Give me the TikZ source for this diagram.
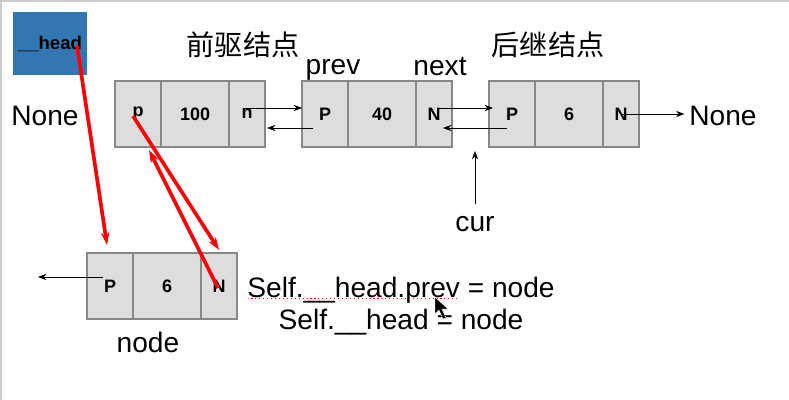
\documentclass[tikz,border=0pt]{standalone}
\usepackage{fontspec}
\setmainfont{Liberation Sans}
\newfontfamily\cjk{Noto Sans CJK SC}
\usetikzlibrary{arrows.meta, positioning}

\definecolor{headblue}{RGB}{50,118,178}
\definecolor{cellgray}{RGB}{221,221,223}
\definecolor{cellline}{RGB}{135,135,135}

\begin{document}
\begin{tikzpicture}[
            x = 0.025cm, y = -0.025cm, % one unit = one pixel, y going down
            cell/.style = {draw=cellline, fill=cellgray, line width=1pt, outer sep=0pt,
                           inner sep=0pt, minimum height=1.65cm,
                           font=\fontsize{12.8}{14}\selectfont\bfseries},
            pcell/.style = {cell, minimum width=1.15cm},
            dcell/.style = {cell, minimum width=1.7cm},
            ncell/.style = {cell, minimum width=0.9cm},
            big/.style = {font=\fontsize{20}{24}\selectfont},
            cn/.style = {font=\cjk\fontsize{20}{24}\selectfont},
            link/.style = {-{Stealth[length=6pt, width=4.5pt]}, line width=0.6pt},
            redlink/.style = {-{Stealth[length=9pt, width=6pt]}, red, line width=2.6pt}
        ]

        \useasboundingbox (0,0) rectangle (789,400);
        \fill[gray!40] (0,0) rectangle (789,2);
        \fill[gray!40] (0,0) rectangle (2,400);

        % head pointer
        \node[fill=headblue, minimum width=1.85cm, minimum height=1.575cm,
              font=\fontsize{13.2}{14}\selectfont\bfseries] (head) at (50,43.5) {\_\_head};

        % predecessor
        \node[pcell, anchor=west] (n1p) at (115,114) {p};
        \node[dcell, right=0pt of n1p] (n1d) {100};
        \node[ncell, right=0pt of n1d] (n1n) {n};

        % current
        \node[pcell, anchor=west] (n2p) at (302,114) {P};
        \node[dcell, right=0pt of n2p] (n2d) {40};
        \node[ncell, right=0pt of n2d] (n2n) {N};

        % successor
        \node[pcell, anchor=west] (n3p) at (489,114) {P};
        \node[dcell, right=0pt of n3p] (n3d) {6};
        \node[ncell, right=0pt of n3d] (n3n) {N};

        % new node
        \node[pcell, anchor=west] (bp) at (87,286) {P};
        \node[dcell, right=0pt of bp] (bd) {6};
        \node[ncell, right=0pt of bd] (bn) {N};

        % labels
        \node[cn] (pre) at (243,45) {前驱结点};
        \node[cn] (post) at (548,45) {后继结点};
        \node[big] (prev) at (333,70) {prev};
        \node[big] (next) at (440,67) {next};
        \node[big] (noneL) at (45,116) {None};
        \node[big] (noneR) at (723,116) {None};
        \node[big] (cur) at (475,224) {cur};
        \node[big] (nodelbl) at (148,342) {node};
        \node[big] (self1) at (401,290) {Self.\_\_head.prev = node};
        \node[big] (self2) at (401,322) {Self.\_\_head = node};
        \coordinate (curtip) at (475,151);
        \coordinate (leftend) at (38,277);

        % links
        \draw[link] ([shift={(-4,-6)}]n1n.center) -- ([shift={(0,-6)}]n2p.west);
        \draw[link] ([shift={(-12,14)}]n2p.center) -- ([shift={(2,14)}]n1n.east);
        \draw[link] ([shift={(3,-6)}]n2n.center) -- ([shift={(4,-6)}]n3p.west);
        \draw[link] ([shift={(-5,14)}]n3p.center) -- ([shift={(9,14)}]n2n.center);
        \draw[link] (n3n.center) -- (noneR.west |- n3n.center);
        \draw[link] ([shift={(0,-7)}]cur.north) -- (curtip);
        \draw[link] ([shift={(-7,-9)}]bp.center) -- (leftend);

        % red dotted underline and mouse pointer
        \draw[red, dotted, line width=0.8pt] ([shift={(9,1)}]self1.base west) -- ([shift={(217,1)}]self1.base west);
        \fill[black, draw=white, line width=0.3pt] (435,297) -- (435,314) -- (439,310) -- (443,319)
            -- (446,318) -- (442,309) -- (448,309) -- cycle;

        % red arrows
        \draw[redlink] ([shift={(27,2)}]head.center) -- ([shift={(-3,-8)}]bp.north);
        \draw[redlink] ([shift={(-5,2)}]n1p.center) -- ([shift={(0,-3)}]bn.north);
        \draw[redlink] ([shift={(-1,2)}]bn.center) -- ([shift={(11,3)}]n1p.south);
\end{tikzpicture}
\end{document}
